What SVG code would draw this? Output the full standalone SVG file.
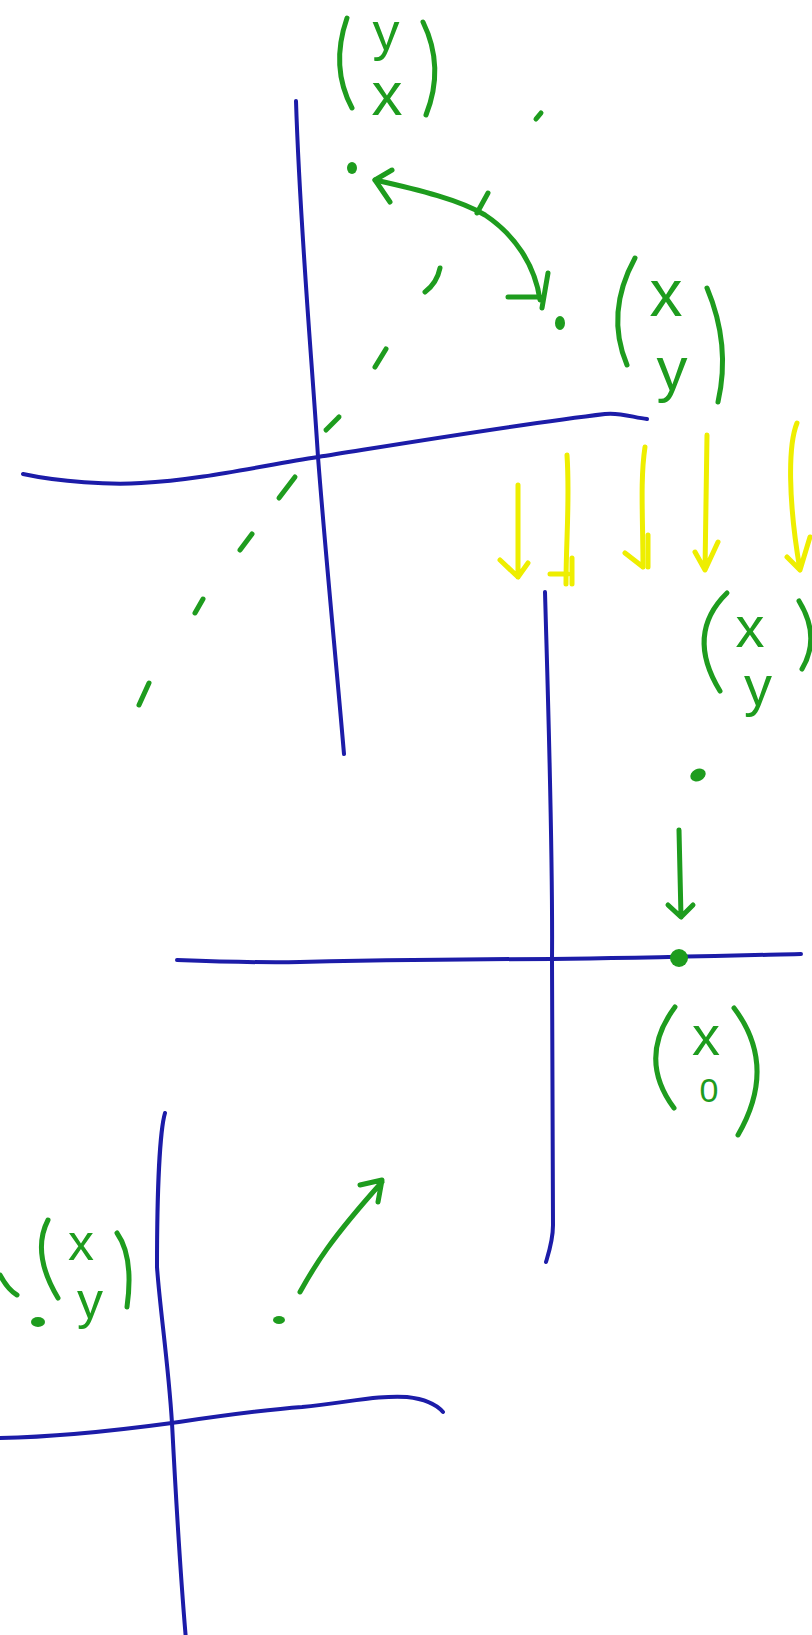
<svg xmlns="http://www.w3.org/2000/svg" width="812" height="1635" viewBox="0 0 812 1635">
<style>
.ax{fill:none;stroke:#1c1ca8;stroke-width:4;stroke-linecap:round;stroke-linejoin:round}
.g{fill:none;stroke:#1e9c1e;stroke-width:5;stroke-linecap:round;stroke-linejoin:round}
.gf{fill:#1e9c1e;stroke:none}
.yl{fill:none;stroke:#eeee00;stroke-width:5;stroke-linecap:round;stroke-linejoin:round}
.t{fill:#1e9c1e;font-family:"Liberation Sans",Arial,sans-serif;text-anchor:middle}
</style>
<rect width="812" height="1635" fill="#ffffff"/>

<g id="axes-top">
<path class="ax" d="M296,101 C300,230 312,360 318,457 C326,560 336,660 344,754"/>
<path class="ax" d="M23,474 C60,482 110,485 141,483 C200,480 260,466 318,457 C400,444 520,424 605,414 C620,412 635,418 647,419"/>
</g>

<g id="axes-middle">
<path class="ax" d="M545,592 C548,700 553,850 552,960 C552,1100 553,1200 553,1225 C553,1240 549,1252 546,1262"/>
<path class="ax" d="M177,960 C230,962 260,963 300,962 C400,960 500,959 552,959 C650,958 750,955 801,954"/>
</g>

<g id="axes-bottom">
<path class="ax" d="M165,1113 C160,1130 157,1190 157,1267 C160,1310 168,1360 172,1423 C176,1500 180,1570 186,1640"/>
<path class="ax" d="M0,1438 C60,1437 120,1430 172,1423 C220,1416 260,1410 302,1407 C350,1402 380,1395 407,1397 C425,1399 437,1405 443,1412"/>
</g>

<g id="diagonal">
<path class="g" d="M536,119 L541,113"/>
<path class="g" d="M440,268 Q437,283 425,292"/>
<path class="g" d="M386,349 L375,367"/>
<path class="g" d="M339,417 L326,430"/>
<path class="g" d="M295,477 L279,498"/>
<path class="g" d="M252,534 L240,550"/>
<path class="g" d="M203,599 L195,613"/>
<path class="g" d="M149,683 L139,705"/>
</g>

<g id="label-yx">
<path class="g" d="M347,18 Q330,67 352,108"/>
<path class="g" d="M423,22 Q445,67 426,115"/>
<text class="t" x="386" y="50" font-size="54">y</text>
<text class="t" x="387" y="115" font-size="62">x</text>
</g>
<g id="point-yx"><ellipse class="gf" cx="352" cy="168" rx="5" ry="6"/></g>

<g id="point-xy-top"><ellipse class="gf" cx="560" cy="323" rx="5" ry="7"/></g>
<g id="label-xy-top">
<path class="g" d="M635,258 Q605,313 627,365"/>
<path class="g" d="M707,288 Q731,345 718,402"/>
<text class="t" x="666" y="316" font-size="66">x</text>
<text class="t" x="672" y="390" font-size="62">y</text>
</g>

<g id="label-xy-middle">
<path class="g" d="M727,593 Q685,634 720,691"/>
<path class="g" d="M799,601 Q821,637 802,669"/>
<text class="t" x="750" y="647" font-size="58">x</text>
<text class="t" x="758" y="705" font-size="56">y</text>
</g>
<g id="point-xy-middle"><ellipse class="gf" cx="698" cy="775" rx="8" ry="6" transform="rotate(-25 698 775)"/></g>
<g id="point-x0"><circle class="gf" cx="679" cy="958" r="9"/></g>
<g id="label-x0">
<path class="g" d="M675,1007 Q637,1058 674,1108"/>
<path class="g" d="M734,1008 Q778,1066 738,1135"/>
<text class="t" x="706" y="1055" font-size="56">x</text>
<text class="t" x="709" y="1102" font-size="34">0</text>
</g>

<g id="label-xy-bottom">
<path class="g" d="M0,1275 Q8,1290 17,1295"/>
<path class="g" d="M48,1220 Q31,1253 58,1298"/>
<path class="g" d="M117,1233 Q134,1257 127,1307"/>
<text class="t" x="81" y="1260" font-size="52">x</text>
<text class="t" x="90" y="1318" font-size="52">y</text>
</g>
<g id="point-xy-bottom"><ellipse class="gf" cx="38" cy="1322" rx="7" ry="5"/></g>
<g id="point-bottom-2"><ellipse class="gf" cx="279" cy="1320" rx="6" ry="4"/></g>

<g id="connectors">
<path class="g" d="M375,180 C420,190 460,200 485,215 C515,235 535,265 540,300"/>
<path class="g" d="M392,170 L375,180 L390,202"/>
<path class="g" d="M488,193 L477,213"/>
<path class="g" d="M508,297 L540,297 M548,273 L542,308"/>

<path class="yl" d="M518,485 L518,577 M500,560 L518,577 L528,563"/>
<path class="yl" d="M567,455 C570,500 566,540 566,584 M550,574 L568,574"/>
<path class="yl" d="M572,558 L572,584" stroke-width="8"/>
<path class="yl" d="M645,447 C640,480 643,520 643,567 M625,553 L643,567"/>
<path class="yl" d="M648,535 L648,567" stroke-width="10"/>
<path class="yl" d="M707,435 L705,570 M695,552 L705,570 L718,542"/>
<path class="yl" d="M797,423 C788,445 788,500 800,570 M787,557 L800,570 L810,537"/>

<path class="g" d="M679,830 L681,917 M668,905 L681,917 L693,905"/>

<path class="g" d="M300,1292 C315,1265 330,1240 382,1182 M360,1185 L382,1180 L378,1202"/>
</g>
</svg>
